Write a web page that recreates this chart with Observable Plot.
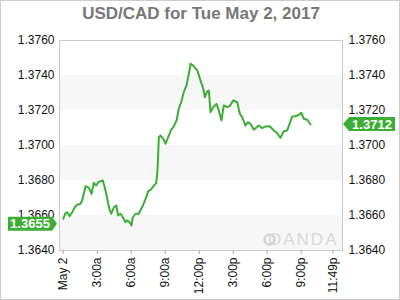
<!DOCTYPE html>
<html><head><meta charset="utf-8">
<script src="https://cdn.jsdelivr.net/npm/d3@7"></script>
<script src="https://cdn.jsdelivr.net/npm/@observablehq/plot@0.6"></script>
<style>body{margin:0;background:#fff}#chart svg{display:block}</style>
</head><body><div id="chart"></div>
<script>
const title = "USD/CAD for Tue May 2, 2017";
const hours = [0.0,0.20,0.35,0.56,0.79,1.02,1.24,1.53,1.68,1.97,2.21,2.35,2.50,2.70,2.91,3.09,3.29,3.50,3.73,4.09,4.24,4.47,4.68,4.85,5.06,5.26,5.50,5.65,5.85,6.03,6.14,6.38,6.67,7.03,7.33,7.50,7.71,8.00,8.21,8.32,8.44,8.59,8.83,9.03,9.32,9.53,9.76,10.0,10.20,10.41,10.64,10.88,11.09,11.24,11.47,11.83,12.12,12.36,12.50,12.71,12.85,13.00,13.24,13.53,13.73,13.97,14.17,14.47,14.70,15.00,15.36,15.59,15.80,16.09,16.29,16.53,16.82,17.26,17.56,17.86,18.23,18.59,18.89,19.18,19.47,19.77,20.21,20.50,20.79,21.01,21.24,21.54,21.83];
const rates = [1.36581,1.36613,1.36618,1.36596,1.36618,1.36647,1.36661,1.36667,1.36690,1.36767,1.36761,1.36747,1.36724,1.36787,1.36771,1.36790,1.36796,1.36800,1.36743,1.36633,1.36610,1.36647,1.36657,1.36600,1.36610,1.36590,1.36562,1.36571,1.36562,1.36543,1.36590,1.36610,1.36610,1.36657,1.36705,1.36739,1.36747,1.36771,1.36787,1.36857,1.37047,1.37057,1.37038,1.37010,1.37057,1.37091,1.37110,1.37143,1.37210,1.37247,1.37305,1.37343,1.37410,1.37467,1.37457,1.37429,1.37371,1.37324,1.37276,1.37309,1.37314,1.37190,1.37219,1.37238,1.37200,1.37143,1.37229,1.37219,1.37225,1.37257,1.37247,1.37181,1.37162,1.37114,1.37133,1.37124,1.37090,1.37114,1.37099,1.37109,1.37110,1.37086,1.37070,1.37044,1.37082,1.37086,1.37166,1.37167,1.37175,1.37187,1.37153,1.37147,1.37120];
const yTicks = [1.364,1.366,1.368,1.370,1.372,1.374,1.376];
const bandLow = [1.364,1.368,1.372];
const bandHigh = [1.366,1.370,1.374];
const xDomain = [-0.33,24.65];
const yDomain = [1.364,1.376];
const xTickHours = [0,3,6,9,12,15,18,21,23.817];
const xTickLabels = ["May 2","3:00a","6:00a","9:00a","12:00p","3:00p","6:00p","9:00p","11:49p"];
const openRate = 1.3655;
const lastRate = 1.3712;
const watermark = "OANDA";

const data = hours.map((h,i)=>({h, v: rates[i]}));
const bands = bandLow.map((lo,i)=>({lo, hi: bandHigh[i]}));
const font = "'Liberation Sans', Arial, sans-serif";
const green = "#3cae36";

const plot = Plot.plot({
  width:400, height:300, marginLeft:59, marginRight:58, marginTop:40, marginBottom:50,
  style:{fontFamily:font, fontSize:"12px", color:"#222", background:"#fff"},
  x:{domain:xDomain, label:null},
  y:{domain:yDomain, label:null},
  marks:[
    Plot.rect(bands,{x1:xDomain[0], x2:xDomain[1], y1:"lo", y2:"hi", fill:"#f7f7f7"}),
    Plot.text([watermark],{frameAnchor:"bottom-right", dx:-4, dy:-11, lineAnchor:"middle", fill:"#d8d8d8", fontSize:17, text:d=>d, className:"wm"}),
    Plot.dot([0],{frameAnchor:"bottom-right", dx:-73, dy:-11, r:5, stroke:"#d4d4d4", strokeWidth:2.5}),
    Plot.frame({stroke:"#c8c8c8"}),
    Plot.axisY({anchor:"left", ticks:yTicks, tickFormat:d=>d.toFixed(4), tickSize:0, tickPadding:5, fill:"#111", fontSize:12, label:null}),
    Plot.axisY({anchor:"right", ticks:yTicks, tickFormat:d=>d.toFixed(4), tickSize:0, tickPadding:6, fill:"#111", fontSize:12, label:null}),
    Plot.axisX({ticks:xTickHours, tickFormat:(d)=>xTickLabels[xTickHours.indexOf(d)], tickRotate:-90, tickSize:4, tickPadding:3, stroke:"#aaa", fill:"#111", fontSize:12, label:null}),
    Plot.line(data,{x:"h", y:"v", stroke:green, strokeWidth:2}),
    Plot.text([title],{frameAnchor:"top", dy:-27, lineAnchor:"middle", text:d=>d, fontSize:17, fontWeight:"bold", fill:"#777"})
  ]
});

const svg = d3.select(plot);
svg.selectAll("g.wm text, .wm text").attr("letter-spacing", 2);
const ys = plot.scale("y");
const yo = ys.apply(openRate);
const yl = ys.apply(lastRate);
svg.append("path").attr("d",`M8,${yo-7}H52L57,${yo}L52,${yo+7}H8Z`).attr("fill",green);
svg.append("text").attr("x",30).attr("y",yo).attr("dy","0.35em").attr("text-anchor","middle")
  .attr("fill","#fff").attr("font-weight","bold").attr("font-size",13).attr("font-family",font).text(openRate.toFixed(4));
svg.append("path").attr("d",`M343,${yl}L349,${yl-7}H395V${yl+7}H349Z`).attr("fill",green);
svg.append("text").attr("x",372).attr("y",yl).attr("dy","0.35em").attr("text-anchor","middle")
  .attr("fill","#fff").attr("font-weight","bold").attr("font-size",13).attr("font-family",font).text(lastRate.toFixed(4));
svg.append("rect").attr("x",0.5).attr("y",0.5).attr("width",399).attr("height",299).attr("fill","none").attr("stroke","#ccc");
document.getElementById("chart").append(plot);
</script>
</body></html>
